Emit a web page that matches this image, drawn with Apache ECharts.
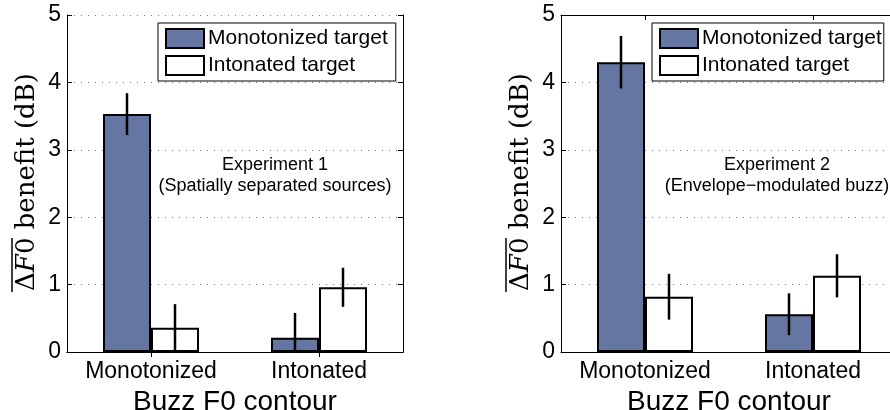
<!DOCTYPE html>
<html><head><meta charset="utf-8">
<script src="https://cdn.jsdelivr.net/npm/echarts@6/dist/echarts.min.js"></script>
<style>html,body{margin:0;padding:0;background:#fff;overflow:hidden}#c{width:890px;height:410px}</style>
</head><body><div id="c"></div>
<script>
// ---- data ----
const categories = ['Monotonized', 'Intonated'];
const seriesNames = ['Monotonized target', 'Intonated target'];
const yTicks = [0, 1, 2, 3, 4, 5];
// Experiment 1 (left panel)
const exp1Mono = [3.53, 0.21];
const exp1MonoErr = [0.31, 0.37];
const exp1Into = [0.36, 0.96];
const exp1IntoErr = [0.35, 0.29];
// Experiment 2 (right panel)
const exp2Mono = [4.30, 0.56];
const exp2MonoErr = [0.39, 0.31];
const exp2Into = [0.82, 1.13];
const exp2IntoErr = [0.34, 0.32];
const annot1 = ['Experiment 1', '(Spatially separated sources)'];
const annot2 = ['Experiment 2', '(Envelope\u2212modulated buzz)'];
const xName = 'Buzz F0 contour';

const BLUE = '#6676a3';
const SANS = 'Liberation Sans, Arial, sans-serif';
const BW = 48;

const chart = echarts.init(document.getElementById('c'));

function xAxes(gi) {
  return [{
    type: 'category', gridIndex: gi, data: categories, position: 'bottom',
    axisLine: {lineStyle: {color: '#000', width: 1}},
    axisTick: {show: true, inside: true, alignWithLabel: true, length: 5, lineStyle: {color: '#000'}},
    axisLabel: {color: '#000', fontSize: 23, fontFamily: SANS, margin: 8, interval: 0},
    splitLine: {show: false},
    name: xName, nameLocation: 'middle', nameGap: 25,
    nameTextStyle: {color: '#000', fontSize: 28, fontFamily: SANS}
  }, {
    type: 'category', gridIndex: gi, data: categories, position: 'top',
    axisLine: {lineStyle: {color: '#000', width: 1}},
    axisTick: {show: true, inside: true, alignWithLabel: true, length: 5, lineStyle: {color: '#000'}},
    axisLabel: {show: false}, splitLine: {show: false}
  }];
}
function yLeft(gi) {
  return {
    type: 'value', gridIndex: gi, min: 0, max: 5, interval: 1, position: 'left',
    axisLine: {show: true, lineStyle: {color: '#000', width: 1}},
    axisTick: {show: true, inside: true, length: 5, lineStyle: {color: '#000'}},
    axisLabel: {color: '#000', fontSize: 23, fontFamily: SANS, margin: 6,
      formatter: v => yTicks.includes(v) ? String(v) : ''},
    splitLine: {show: true, lineStyle: {color: '#777', width: 1, type: [1, 6]}}
  };
}
function yRight(gi) {
  return {
    type: 'value', gridIndex: gi, min: 0, max: 5, interval: 1, position: 'right',
    axisLine: {show: true, lineStyle: {color: '#000', width: 1}},
    axisTick: {show: true, inside: true, length: 5, lineStyle: {color: '#000'}},
    axisLabel: {show: false}, splitLine: {show: false}
  };
}

function barSeries(name, data, color, xi, yi) {
  return {
    type: 'bar', name: name, data: data, xAxisIndex: xi, yAxisIndex: yi,
    barWidth: BW, barGap: '0%', z: 2,
    itemStyle: {color: color, borderColor: '#000', borderWidth: 2},
    emphasis: {disabled: true}
  };
}
function errSeries(vals, errs, offset, xi, yi) {
  return {
    type: 'custom', xAxisIndex: xi, yAxisIndex: yi, z: 5, silent: true,
    data: vals.map((v, i) => [i, v, errs[i]]),
    renderItem: function (params, api) {
      const i = api.value(0), v = api.value(1), e = api.value(2);
      const top = api.coord([i, v + e]);
      const bot = api.coord([i, Math.max(0, v - e)]);
      const x = top[0] + offset;
      return {type: 'line', shape: {x1: x, y1: top[1], x2: x, y2: bot[1]},
        style: {stroke: '#000', lineWidth: 2.5}};
    }
  };
}

const grids = [
  {left: 67, top: 15, width: 336, height: 337},
  {left: 561, top: 15, width: 336, height: 337}
];

function legend(left, padRight) {
  return {
    data: seriesNames.map(n => ({name: n, icon: 'rect'})), orient: 'vertical', left: left, top: 23,
    itemWidth: 38, itemHeight: 19, itemGap: 6,
    padding: [5, padRight, 5, 7],
    borderColor: '#000', borderWidth: 1, backgroundColor: '#fff',
    textStyle: {color: '#000', fontSize: 21, fontFamily: SANS, padding: [0, 0, 0, -1]},
    selectedMode: false, z: 10
  };
}

function annotText(x, lines) {
  return [
    {type: 'text', x: x, y: 165, z: 20, style: {text: lines[0], font: '18px ' + SANS, fill: '#000', align: 'center', verticalAlign: 'middle'}},
    {type: 'text', x: x, y: 186, z: 20, style: {text: lines[1], font: '18px ' + SANS, fill: '#000', align: 'center', verticalAlign: 'middle'}}
  ];
}
function yLabel(x) {
  return [
    {type: 'text', x: x, y: 182, rotation: Math.PI / 2, z: 20,
      style: {text: '{a|\u0394}{f|F}{a|0 benefit (dB)}', align: 'center', verticalAlign: 'middle',
        rich: {
          a: {fontFamily: 'DejaVu Serif', fontSize: 26, fill: '#000', color: '#000'},
          f: {fontFamily: 'DejaVu Serif', fontStyle: 'italic', fontSize: 26, fill: '#000', color: '#000'}
        }}},
    {type: 'line', z: 20, shape: {x1: x - 15, y1: 238, x2: x - 15, y2: 292}, style: {stroke: '#000', lineWidth: 1.5}}
  ];
}

const option = {
  animation: false,
  backgroundColor: '#fff',
  grid: grids.map(g => Object.assign({show: false, containLabel: false, outerBoundsMode: 'none'}, g)),
  xAxis: [...xAxes(0), ...xAxes(1)],
  yAxis: [yLeft(0), yRight(0), yLeft(1)],
  legend: [legend(158, 8), legend(652, 2)],
  series: [
    barSeries(seriesNames[0], exp1Mono, BLUE, 0, 0),
    barSeries(seriesNames[1], exp1Into, '#fff', 0, 0),
    errSeries(exp1Mono, exp1MonoErr, -BW / 2, 0, 0),
    errSeries(exp1Into, exp1IntoErr, BW / 2, 0, 0),
    barSeries(seriesNames[0], exp2Mono, BLUE, 2, 2),
    barSeries(seriesNames[1], exp2Into, '#fff', 2, 2),
    errSeries(exp2Mono, exp2MonoErr, -BW / 2, 2, 2),
    errSeries(exp2Into, exp2IntoErr, BW / 2, 2, 2)
  ],
  graphic: [...annotText(275, annot1), ...annotText(777, annot2), ...yLabel(27), ...yLabel(521)]
};
chart.setOption(option);
</script></body></html>
